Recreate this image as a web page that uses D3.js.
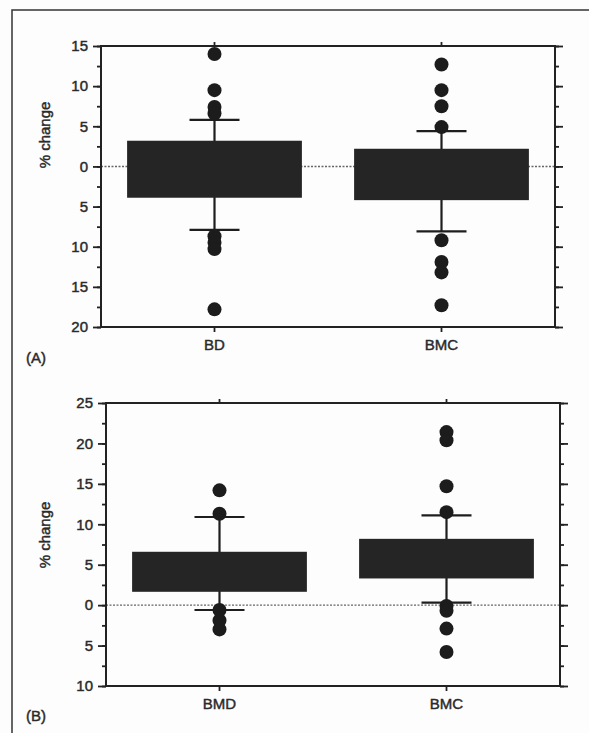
<!DOCTYPE html>
<html lang="en">
<head>
    <meta charset="UTF-8">
    <title>% change box plots</title>
    <script src="https://d3js.org/d3.v7.min.js"></script>
    <style>
        body { margin: 0; background: #fdfdfd; }
        svg { display: block; }
        .tick text, .lbl {
            font-family: "Liberation Sans", Arial, sans-serif;
            font-size: 15px;
            fill: #2a2a2a;
            stroke: #2a2a2a;
            stroke-width: 0.45px;
        }
    </style>
</head>
<body>
<svg id="chart" width="589" height="733"></svg>
<script>
    // panel A
    const catsA = ["BD", "BMC"];
    const q1A = [-3.9, -4.2];
    const q3A = [3.2, 2.2];
    const whiskLowA = [-7.9, -8.1];
    const whiskHighA = [5.8, 4.4];
    const outliersA = [
        [14.0, 9.5, 7.4, 6.6, -8.7, -9.5, -10.3, -17.8],
        [12.7, 9.5, 7.5, 4.9, -9.2, -11.9, -13.2, -17.3]
    ];
    const ticksA = [15, 10, 5, 0, -5, -10, -15, -20];
    const tickLabelsA = ["15", "10", "5", "0", "5", "10", "15", "20"];

    // panel B
    const catsB = ["BMD", "BMC"];
    const q1B = [1.65, 3.3];
    const q3B = [6.6, 8.2];
    const whiskLowB = [-0.6, 0.3];
    const whiskHighB = [10.9, 11.1];
    const outliersB = [
        [14.2, 11.3, -0.6, -1.9, -3.0],
        [21.4, 20.4, 14.7, 11.5, -0.1, -0.7, -2.9, -5.8]
    ];
    const ticksB = [25, 20, 15, 10, 5, 0, -5, -10];
    const tickLabelsB = ["25", "20", "15", "10", "5", "0", "5", "10"];

    const svg = d3.select("#chart");

    // outer frame (only top and left show in the crop)
    svg.append("rect")
        .attr("x", 12).attr("y", 10)
        .attr("width", 600).attr("height", 740)
        .attr("fill", "none")
        .attr("stroke", "#333")
        .attr("stroke-width", 1.5);

    function drawPanel(p) {
        const g = svg.append("g");
        const y = d3.scaleLinear().domain(p.domain).range([p.bottom, p.top]);
        const x = d3.scaleBand().domain(p.cats).range([p.left, p.right]).padding(0);
        const cx = c => x(c) + x.bandwidth() / 2;
        const boxW = x.bandwidth() * 0.77;
        const capW = 50;

        // minor ticks every 2.5
        const minor = d3.range(p.domain[0], p.domain[1] + 0.01, 2.5);
        g.append("g")
            .attr("transform", `translate(${p.left},0)`)
            .call(d3.axisLeft(y).tickValues(minor).tickSize(4).tickFormat(""))
            .call(a => a.select(".domain").remove());
        g.append("g")
            .attr("transform", `translate(${p.right},0)`)
            .call(d3.axisRight(y).tickValues(minor).tickSize(4).tickFormat(""))
            .call(a => a.select(".domain").remove());

        // major ticks
        g.append("g")
            .attr("transform", `translate(${p.left},0)`)
            .call(d3.axisLeft(y).tickValues(p.ticks).tickSize(8).tickPadding(5)
                .tickFormat((d, i) => p.tickLabels[i]))
            .call(a => a.select(".domain").remove());
        g.append("g")
            .attr("transform", `translate(${p.right},0)`)
            .call(d3.axisRight(y).tickValues(p.ticks).tickSize(8).tickFormat(""))
            .call(a => a.select(".domain").remove());

        // category ticks top and bottom
        g.append("g")
            .attr("transform", `translate(0,${p.bottom})`)
            .call(d3.axisBottom(x).tickSize(5).tickFormat(""))
            .call(a => a.select(".domain").remove());
        g.append("g")
            .attr("transform", `translate(0,${p.top})`)
            .call(d3.axisTop(x).tickSize(4).tickFormat(""))
            .call(a => a.select(".domain").remove());

        g.selectAll(".tick line").attr("stroke", "#222").attr("stroke-width", 1.8);

        // zero reference line
        g.append("line")
            .attr("x1", p.left).attr("x2", p.right)
            .attr("y1", y(0)).attr("y2", y(0))
            .attr("stroke", "#666")
            .attr("stroke-width", 1.4)
            .attr("stroke-dasharray", "2,1.5");

        p.cats.forEach((c, i) => {
            // whiskers
            g.append("line")
                .attr("x1", cx(c)).attr("x2", cx(c))
                .attr("y1", y(p.whiskLow[i])).attr("y2", y(p.whiskHigh[i]))
                .attr("stroke", "#1e1e1e").attr("stroke-width", 2.2);
            [p.whiskLow[i], p.whiskHigh[i]].forEach(v => {
                g.append("line")
                    .attr("x1", cx(c) - capW / 2).attr("x2", cx(c) + capW / 2)
                    .attr("y1", y(v)).attr("y2", y(v))
                    .attr("stroke", "#1e1e1e").attr("stroke-width", 2.2);
            });
            // box
            g.append("rect")
                .attr("x", cx(c) - boxW / 2)
                .attr("y", y(p.q3[i]))
                .attr("width", boxW)
                .attr("height", y(p.q1[i]) - y(p.q3[i]))
                .attr("fill", "#252525");
            // outliers
            g.selectAll(null)
                .data(p.outliers[i])
                .enter()
                .append("circle")
                .attr("cx", cx(c))
                .attr("cy", d => y(d))
                .attr("r", 7)
                .attr("fill", "#1c1c1c");
            // category label
            g.append("text")
                .attr("class", "lbl")
                .attr("x", cx(c))
                .attr("y", p.bottom + 23)
                .attr("text-anchor", "middle")
                .text(c);
        });

        // plot border
        g.append("rect")
            .attr("x", p.left).attr("y", p.top)
            .attr("width", p.right - p.left)
            .attr("height", p.bottom - p.top)
            .attr("fill", "none")
            .attr("stroke", "#222")
            .attr("stroke-width", 2);

        g.append("text")
            .attr("class", "lbl")
            .attr("transform", `translate(50,${p.labelY}) rotate(-90)`)
            .attr("text-anchor", "middle")
            .text("% change");

        g.append("text")
            .attr("class", "lbl")
            .attr("x", 26)
            .attr("y", p.panelY)
            .text(p.panel);
    }

    drawPanel({
        cats: catsA, q1: q1A, q3: q3A, whiskLow: whiskLowA, whiskHigh: whiskHighA,
        outliers: outliersA, ticks: ticksA, tickLabels: tickLabelsA,
        domain: [-20, 15], left: 101, right: 555, top: 46, bottom: 327,
        labelY: 135, panel: "(A)", panelY: 363
    });

    drawPanel({
        cats: catsB, q1: q1B, q3: q3B, whiskLow: whiskLowB, whiskHigh: whiskHighB,
        outliers: outliersB, ticks: ticksB, tickLabels: tickLabelsB,
        domain: [-10, 25], left: 106, right: 560, top: 403, bottom: 686,
        labelY: 535, panel: "(B)", panelY: 721
    });
</script>
</body>
</html>
